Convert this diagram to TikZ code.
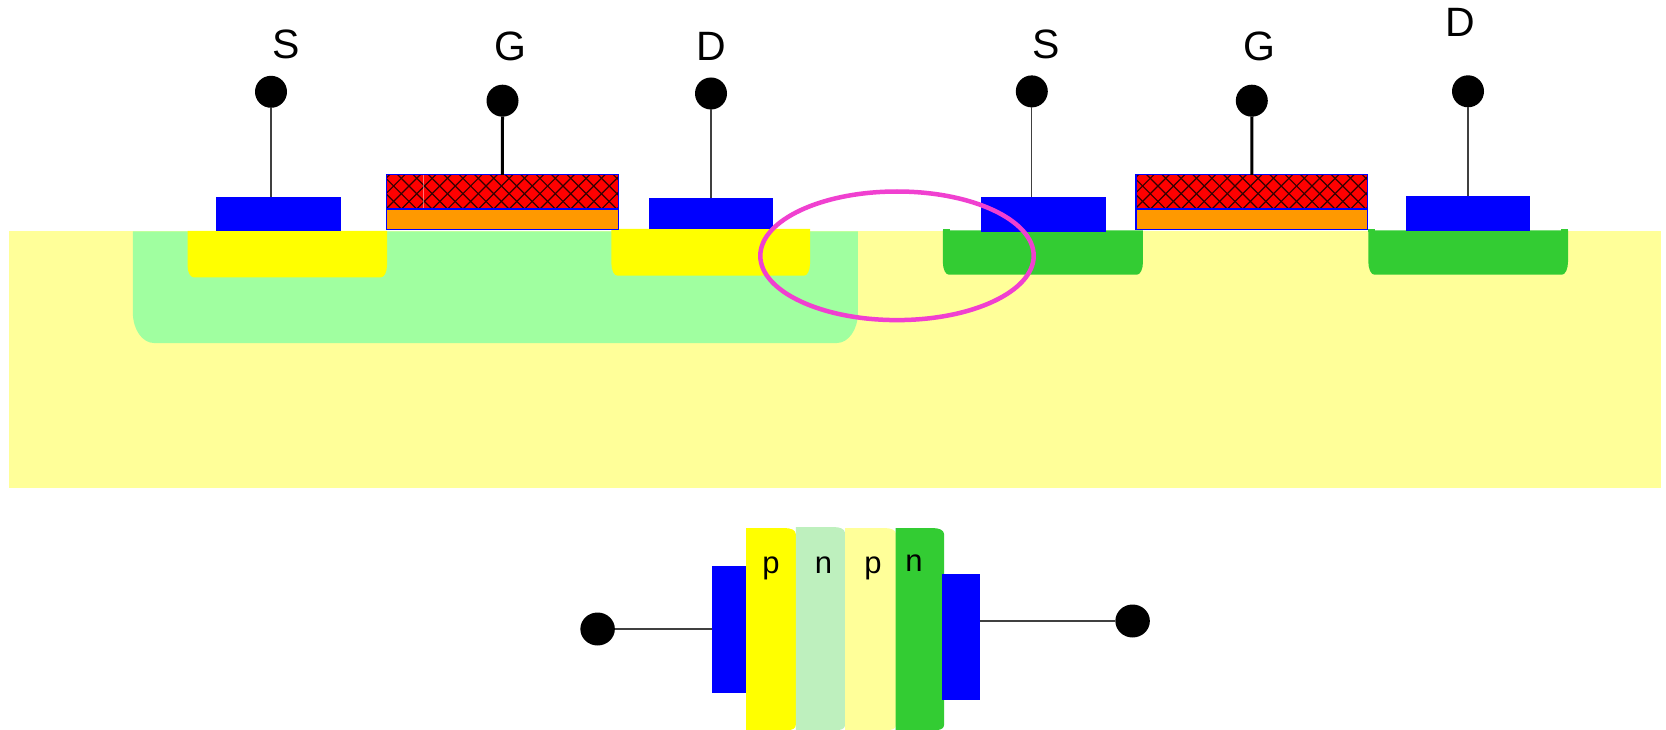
\documentclass[tikz,border=0pt]{standalone}
\usepackage{fontspec}
\setmainfont{Liberation Sans}
\usetikzlibrary{shapes.geometric}
\definecolor{substrate}{HTML}{FFFF99}
\definecolor{wellgreen}{HTML}{A0FFA0}
\definecolor{ntype}{HTML}{33CC33}
\definecolor{lightn}{HTML}{BEF0BE}
\definecolor{ptype}{HTML}{FFFF00}
\definecolor{metal}{HTML}{0000FF}
\definecolor{oxide}{HTML}{FF9900}
\definecolor{poly}{HTML}{FF0000}
\definecolor{loopc}{HTML}{F040D0}
\tikzset{
  block/.style={inner sep=0pt,outer sep=0pt,anchor=north west,rectangle,draw=none},
  metalpad/.style={block,fill=metal},
  gateoxide/.style={block,fill=oxide,draw=metal,line width=1.2pt},
  gatepoly/.style={block,fill=poly,draw=metal,line width=1.2pt},
  terminal/.style={circle,fill=black,inner sep=0pt,outer sep=0pt,minimum size=32pt},
  endterminal/.style={ellipse,fill=black,inner sep=0pt,outer sep=0pt,minimum width=34.5pt,minimum height=33pt},
  wire/.style={draw=black!75,line width=1.2pt},
  gatewire/.style={draw=black,line width=3pt},
  biglabel/.style={font=\fontsize{41}{41}\selectfont,text=black,inner sep=0pt},
  typelabel/.style={font=\fontsize{31}{31}\selectfont,text=black,inner sep=0pt},
  hatchline/.style={draw=black!80!poly,line width=1.2pt},
}
% name, style, x1, y1, x2, y2
\newcommand{\blocknode}[6]{\node[#2,minimum width={(#5-#3)*1pt},minimum height={(#6-#4)*1pt}] (#1) at (#3,#4) {};}
% colour, x1, y1, x2, y2, rx, ry : both lower corners rounded
\newcommand{\tub}[7]{\fill[#1] (#2,#3) -- (#2,{#5-#7}) .. controls (#2,{#5-0.45*#7}) and ({#2+0.45*#6},#5) .. ({#2+#6},#5) -- ({#4-#6},#5) .. controls ({#4-0.45*#6},#5) and (#4,{#5-0.45*#7}) .. (#4,{#5-#7}) -- (#4,#3) -- cycle;}
% colour, x1, y1, x2, y2 : both right corners rounded
\newcommand{\layer}[5]{\fill[#1] (#2,#3) -- ({#4-12},#3) .. controls ({#4-5},#3) and (#4,{#3+2}) .. (#4,{#3+6}) -- (#4,{#5-5}) .. controls (#4,{#5-2}) and ({#4-3},#5) .. ({#4-7},#5) -- (#2,#5) -- cycle;}
% x1, y1, x2, y2, phase : crosshatch inside the gate
\newcommand{\crosshatch}[5]{\begin{scope}
  \clip (#1,#2) rectangle (#3,#4);
  \foreach \k in {-6,...,22} {
    \draw[hatchline] ({223+#5+\k*15.4+170},170) -- ({223+#5+\k*15.4+215},215);
    \draw[hatchline] ({595+#5+\k*15.4-170},170) -- ({595+#5+\k*15.4-215},215);
  }
\end{scope}}
\begin{document}
\begin{tikzpicture}[x=1pt,y=-1pt]
\useasboundingbox (0,0) rectangle (1666,730);
\fill[white] (0,0) rectangle (1666,730);
% substrate and wells
\fill[substrate] (8.5,231.3) rectangle (1661,488);
\tub{wellgreen}{132.9}{231.3}{857.9}{343}{21}{30}
% left device regions
\tub{ptype}{187.5}{231}{387}{277.3}{6}{12}
\tub{ptype}{611.4}{229}{810}{275.7}{6}{12}
% right device regions
\tub{ntype}{942.9}{230.5}{1142.9}{274.7}{6}{12}
\fill[ntype] (942.9,229) rectangle (950,232);
\tub{ntype}{1368.3}{230.5}{1568}{274.7}{6}{13}
\fill[ntype] (1368.3,229) rectangle (1375.3,232);
\fill[ntype] (1561,229) rectangle (1568,232);
% left transistor
\blocknode{padSa}{metalpad}{216}{197}{341}{231}
\blocknode{oxa}{gateoxide}{386.6}{209.7}{618.2}{229.8}
\blocknode{polya}{gatepoly}{386.6}{174.8}{618.2}{209}
\crosshatch{386.6}{174.8}{618.2}{209}{0}
\draw[metal,line width=1.2pt] (polya.north west) rectangle (polya.south east);
\draw[white,opacity=.45,line width=.7pt] (423,175.5) -- (423,208.5);
\blocknode{padDa}{metalpad}{648.6}{198}{773}{229}
\node[terminal] (dotSa) at (271,91.8) {};
\node[terminal] (dotGa) at (502.5,100.7) {};
\node[terminal] (dotDa) at (711,93.5) {};
\draw[wire] (dotSa.south) -- (dotSa.south |- padSa.north);
\draw[gatewire] (dotGa.south) -- (polya.north);
\draw[wire] (dotDa.south) -- (dotDa.south |- padDa.north);
\node[biglabel] (labSa) at (285.8,44.6) {S};
\node[biglabel] (labGa) at (510,46.7) {G};
\node[biglabel] (labDa) at (711,46.7) {D};
% right transistor
\blocknode{padSb}{metalpad}{981}{197}{1105.7}{232}
\blocknode{oxb}{gateoxide}{1135.9}{209.7}{1367.8}{229.8}
\blocknode{polyb}{gatepoly}{1135.9}{174.8}{1367.8}{209}
\crosshatch{1135.9}{174.8}{1367.8}{209}{749}
\draw[metal,line width=1.2pt] (polyb.north west) rectangle (polyb.south east);
\blocknode{padDb}{metalpad}{1405.7}{196}{1530.3}{231.3}
\node[terminal] (dotSb) at (1031.8,91.4) {};
\node[terminal] (dotGb) at (1251.8,100.7) {};
\node[terminal] (dotDb) at (1468,91.3) {};
\draw[wire] (dotSb.south) -- (dotSb.south |- padSb.north);
\draw[gatewire] (dotGb.south) -- (polyb.north);
\draw[wire] (dotDb.south) -- (dotDb.south |- padDb.north);
\node[biglabel] (labSb) at (1046.6,44.6) {S};
\node[biglabel] (labGb) at (1259,46.7) {G};
\node[biglabel] (labDb) at (1460,22.3) {D};
% parasitic junction loop
\draw[loopc,line width=4.5pt] (897,255.8) ellipse [x radius=136.7,y radius=64.3];
% pnpn stack
\layer{ptype}{746}{528}{795.8}{730}
\layer{lightn}{795.8}{527}{845}{730}
\layer{substrate}{845}{528}{896}{730}
\layer{ntype}{895.5}{528}{944}{730}
\blocknode{padL}{metalpad}{711.6}{565.7}{745.7}{692.7}
\blocknode{padR}{metalpad}{941.6}{573.8}{979.9}{700.3}
\node[endterminal] (dotL) at (597.6,629) {};
\node[endterminal] (dotR) at (1132.6,621) {};
\draw[wire] (dotL.east) -- (dotL.east -| padL.west);
\draw[wire] (padR.east |- dotR.west) -- (dotR.west);
\node[typelabel,anchor=base] (lp1) at (771,573) {p};
\node[typelabel,anchor=base] (ln1) at (823.5,573) {n};
\node[typelabel,anchor=base] (lp2) at (873,573) {p};
\node[typelabel,anchor=base] (ln2) at (914,571) {n};
\end{tikzpicture}
\end{document}
